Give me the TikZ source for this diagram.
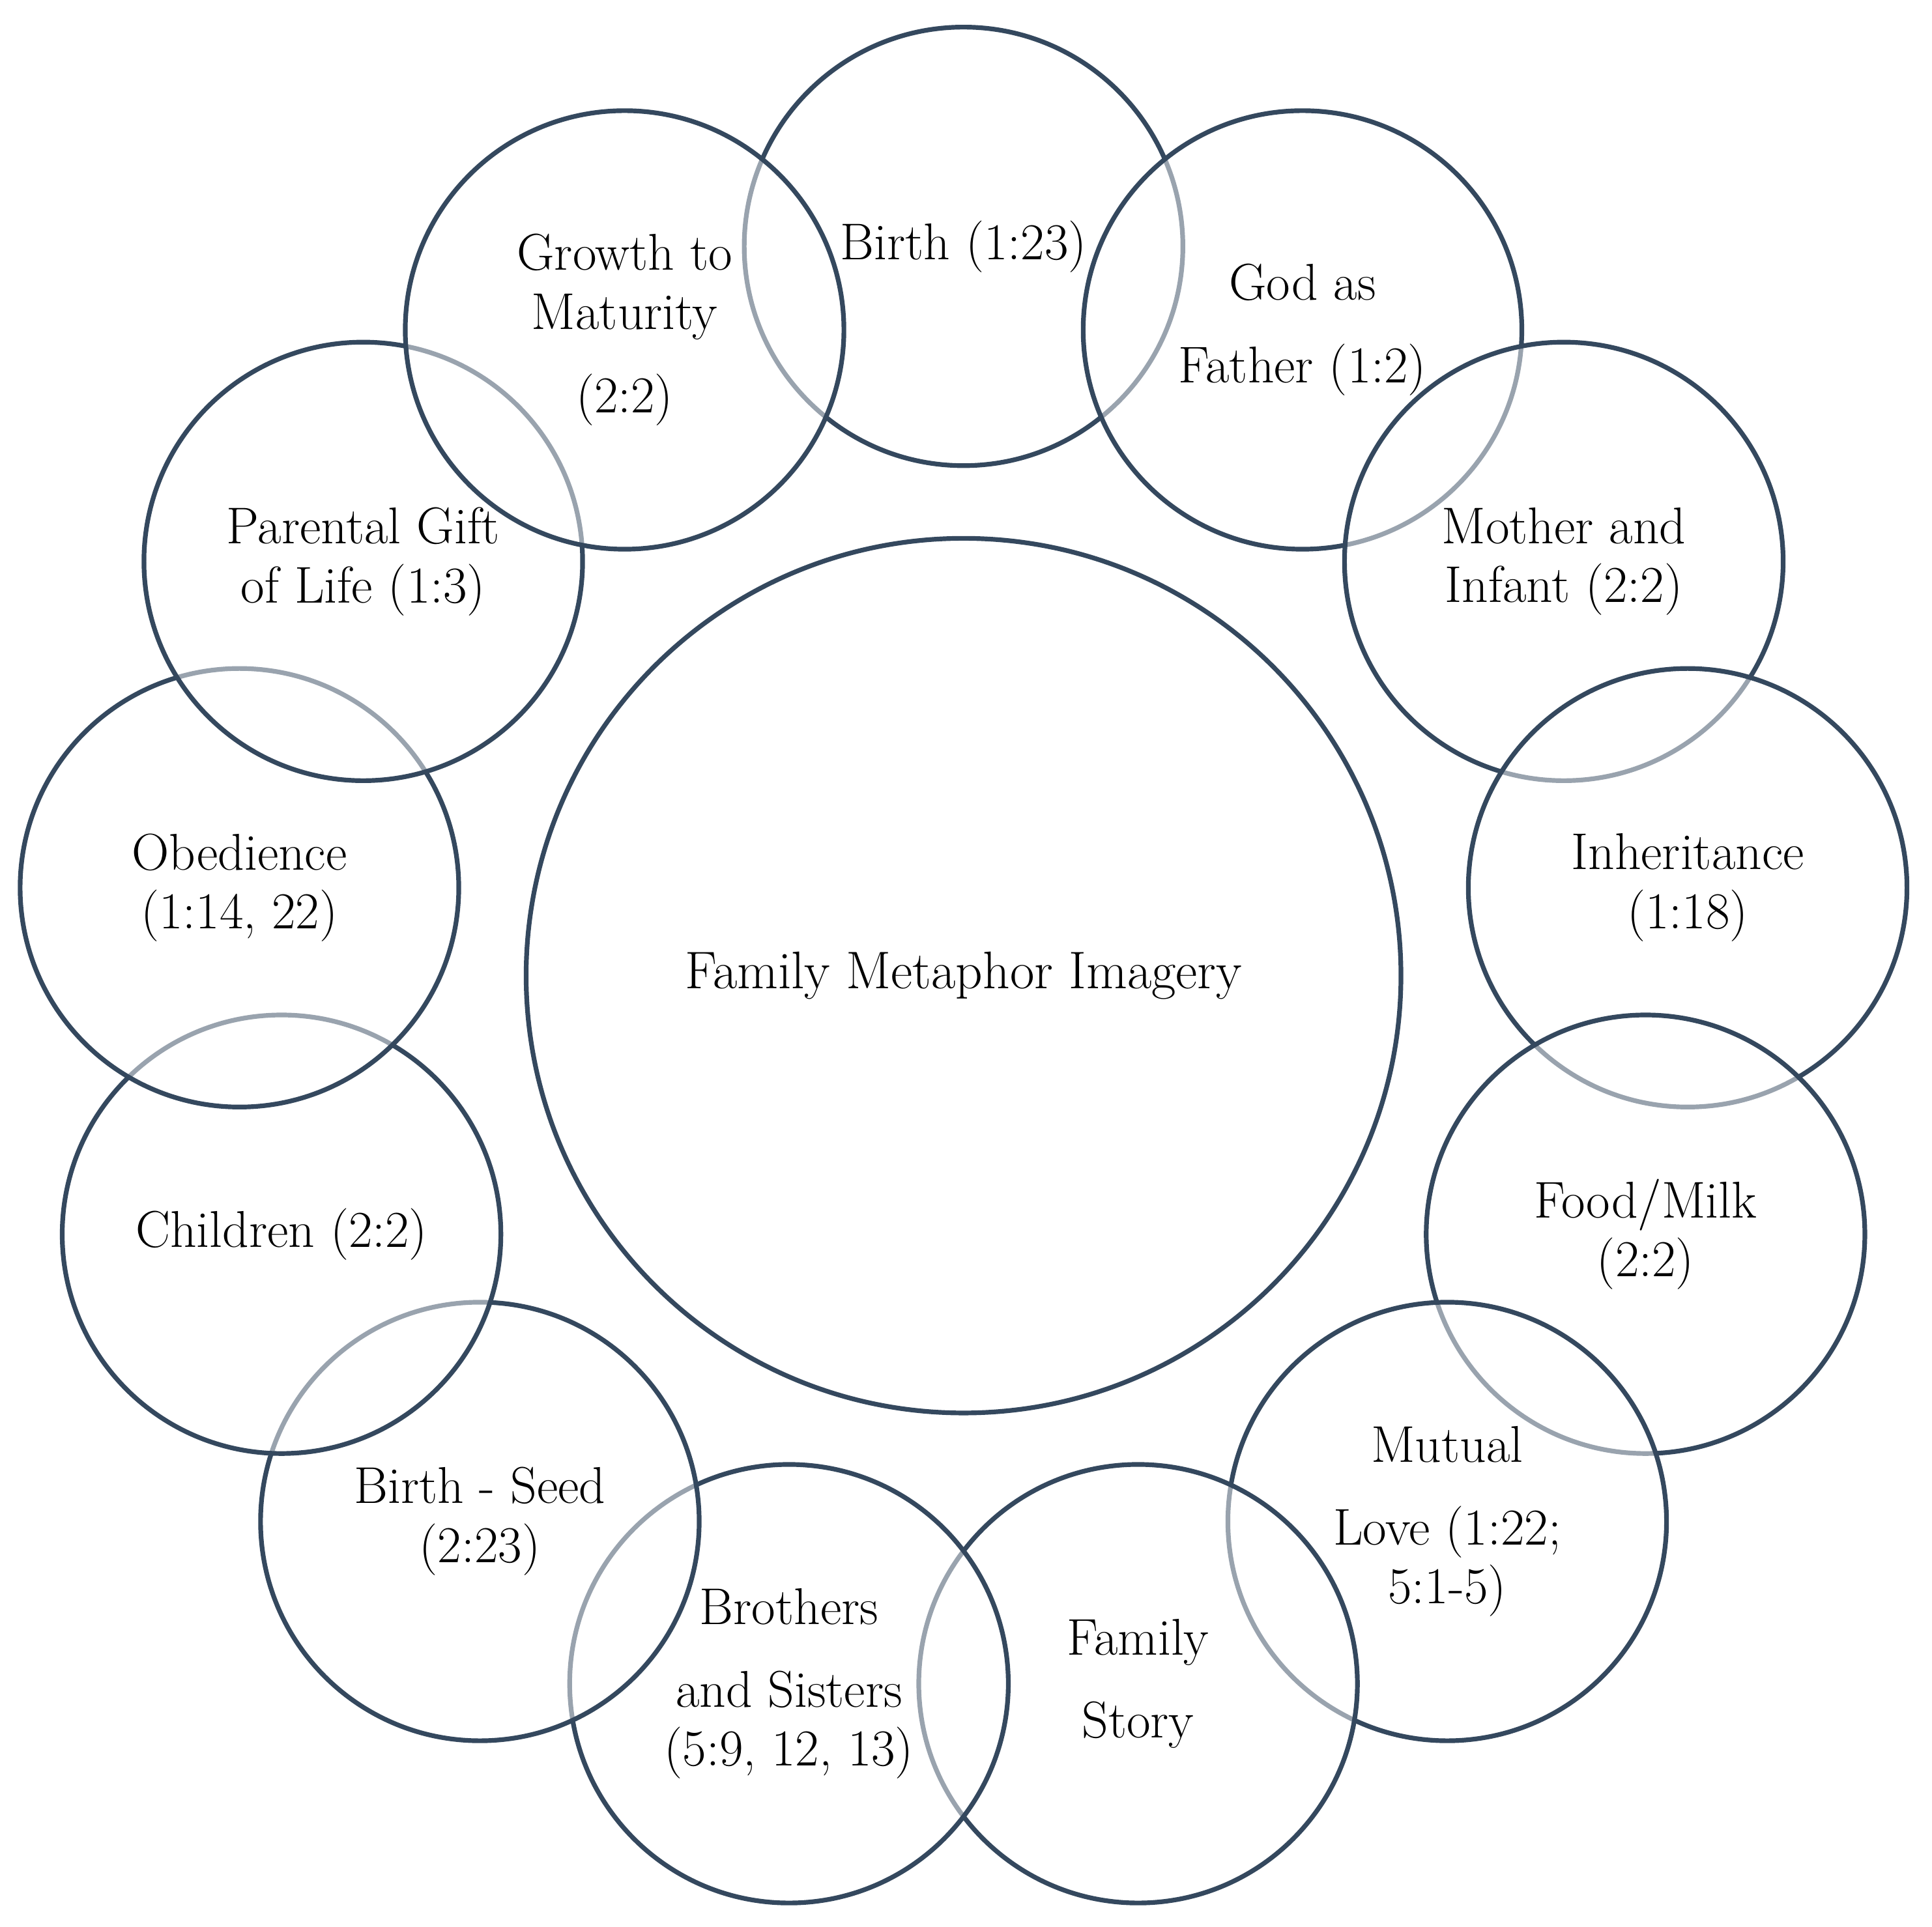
\documentclass[tikz,border=0pt]{standalone}
\usepackage{fontspec}
\usetikzlibrary{calc}
\definecolor{ringc}{RGB}{52,72,94}
\begin{document}
\begin{tikzpicture}[x=1pt,y=1pt,
  ring/.style={circle, draw=ringc, line width=3.8pt, minimum size=356pt, inner sep=0pt,
    fill=white, fill opacity=0.5, draw opacity=1, text opacity=1, align=center,
    font=\fontsize{42}{48}\selectfont},
  hub/.style={circle, draw=ringc, line width=3.8pt, minimum size=710pt, inner sep=0pt,
    font=\fontsize{43}{48}\selectfont}]
\useasboundingbox (0,0) rectangle (1568,-1564);
\coordinate (O) at (782,-792);
\node[hub] (hub) at (O) {Family Metaphor Imagery};
\node[ring] (birth)   at ($(O)+(90:592)$)        {Birth (1:23)};
\node[ring] (god)     at ($(O)+(62.3077:592)$)   {God as\\[19pt]Father (1:2)};
\node[ring] (mother)  at ($(O)+(34.6154:592)$)   {Mother and\\Infant (2:2)};
\node[ring] (inherit) at ($(O)+(6.9231:592)$)    {Inheritance\\(1:18)};
\node[ring] (food)    at ($(O)+(-20.7692:592)$)  {Food/Milk\\(2:2)};
\node[ring] (mutual)  at ($(O)+(-48.4615:592)$)  {Mutual\\[19pt]Love (1:22;\\5:1-5)};
\node[ring] (story)   at ($(O)+(-76.1538:592)$)  {Family\\[19pt]Story};
\node[ring] (broth)   at ($(O)+(-103.8462:592)$) {Brothers\\[19pt]and Sisters\\(5:9, 12, 13)};
\node[ring] (seed)    at ($(O)+(-131.5385:592)$) {Birth - Seed\\(2:23)};
\node[ring] (child)   at ($(O)+(-159.2308:592)$) {Children (2:2)};
\node[ring] (obed)    at ($(O)+(-186.9231:592)$) {Obedience\\(1:14, 22)};
\node[ring] (gift)    at ($(O)+(-214.6154:592)$) {Parental Gift\\of Life (1:3)};
\node[ring] (growth)  at ($(O)+(-242.3077:592)$) {Growth to\\Maturity\\[20pt](2:2)};
\end{tikzpicture}
\end{document}
